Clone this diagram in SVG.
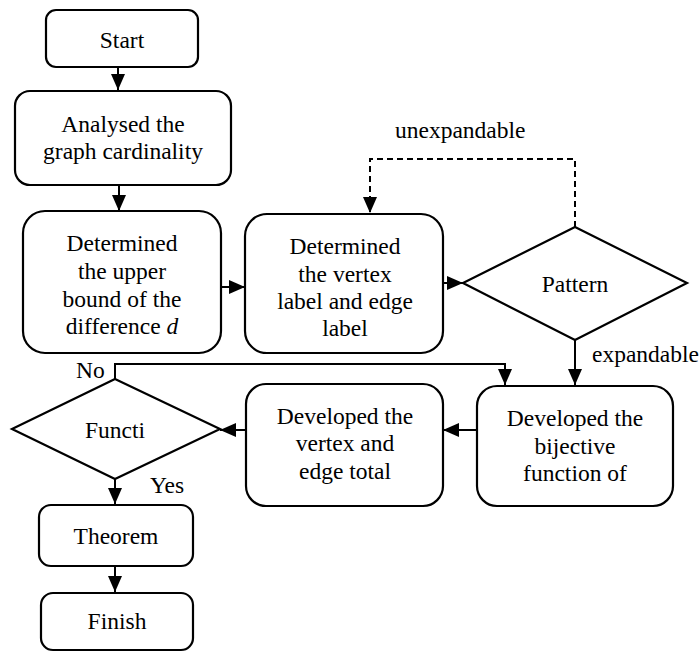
<svg xmlns="http://www.w3.org/2000/svg" width="699" height="652" viewBox="0 0 699 652">
<style>
.n{fill:#fff;stroke:#000;stroke-width:2.2}
.c{fill:none;stroke:#000;stroke-width:2}
.d{stroke-dasharray:6,4}
text{font-family:'Liberation Serif','Times New Roman',serif;font-size:23.5px;fill:#000}
.m{text-anchor:middle}
</style>
<defs>
<marker id="a" markerUnits="userSpaceOnUse" markerWidth="16" markerHeight="14" refX="16" refY="7" orient="auto">
<path d="M0,0 L16,7 L0,14 z" fill="#000"/>
</marker>
</defs>
<rect width="699" height="652" fill="#fff"/>
<g id="connectors">
<path class="c" d="M118,67 V90" marker-end="url(#a)"/>
<path class="c" d="M119,185 V211" marker-end="url(#a)"/>
<path class="c" d="M221,287 H245" marker-end="url(#a)"/>
<path class="c" d="M443,283 H463" marker-end="url(#a)"/>
<path class="c d" d="M575,227 V159 H370 V213" marker-end="url(#a)"/>
<path class="c" d="M575,340 V385" marker-end="url(#a)"/>
<path class="c" d="M477,430 H443" marker-end="url(#a)"/>
<path class="c" d="M246,430 H220" marker-end="url(#a)"/>
<path class="c" d="M115,379 V364 H505 V385" marker-end="url(#a)"/>
<path class="c" d="M115,479 V504" marker-end="url(#a)"/>
<path class="c" d="M115,566 V592" marker-end="url(#a)"/>
<text x="395" y="138">unexpandable</text>
<text x="592" y="362">expandable</text>
<text x="76" y="378">No</text>
<text x="150" y="493">Yes</text>
</g>
<g id="start">
<rect class="n" x="46" y="10" width="152" height="57" rx="10"/>
<text class="m" x="122" y="48">Start</text>
</g>
<g id="analysed">
<rect class="n" x="15" y="91" width="216" height="94" rx="15"/>
<text class="m" x="123" y="132">Analysed the</text>
<text class="m" x="123" y="159">graph cardinality</text>
</g>
<g id="upperbound">
<rect class="n" x="23" y="211" width="198" height="142" rx="22"/>
<text class="m" x="122" y="251">Determined</text>
<text class="m" x="122" y="279">the upper</text>
<text class="m" x="122" y="307">bound of the</text>
<text class="m" x="122" y="334">difference <tspan font-style="italic">d</tspan></text>
</g>
<g id="vertexlabel">
<rect class="n" x="245" y="214" width="198" height="139" rx="22"/>
<text class="m" x="345" y="254">Determined</text>
<text class="m" x="345" y="282">the vertex</text>
<text class="m" x="345" y="309">label and edge</text>
<text class="m" x="345" y="336">label</text>
</g>
<g id="pattern">
<polygon class="n" points="575,227 687,283 575,340 463,283"/>
<text class="m" x="575" y="292">Pattern</text>
</g>
<g id="bijective">
<rect class="n" x="477" y="386" width="196" height="120" rx="20"/>
<text class="m" x="575" y="426">Developed the</text>
<text class="m" x="575" y="454">bijective</text>
<text class="m" x="575" y="481">function of</text>
</g>
<g id="totallabel">
<rect class="n" x="246" y="384" width="197" height="122" rx="20"/>
<text class="m" x="345" y="424">Developed the</text>
<text class="m" x="345" y="451">vertex and</text>
<text class="m" x="345" y="479">edge total</text>
</g>
<g id="function">
<polygon class="n" points="115,379 220,429 115,479 12,429"/>
<text class="m" x="115" y="438">Functi</text>
</g>
<g id="theorem">
<rect class="n" x="39" y="505" width="154" height="61" rx="12"/>
<text class="m" x="116" y="544">Theorem</text>
</g>
<g id="finish">
<rect class="n" x="41" y="593" width="152" height="57" rx="12"/>
<text class="m" x="117" y="629">Finish</text>
</g>
</svg>
